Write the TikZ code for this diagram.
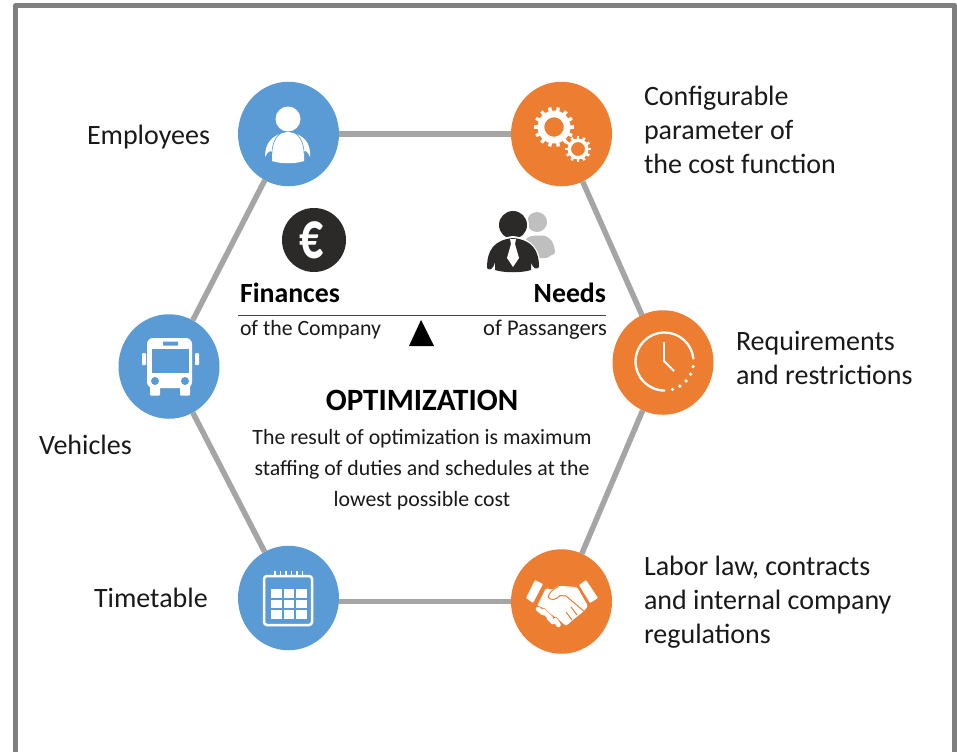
\documentclass[tikz,border=0pt]{standalone}
\usepackage{fontspec}
\usetikzlibrary{shapes.geometric}
\setmainfont{Carlito}
\definecolor{blueC}{HTML}{5B9BD5}
\definecolor{orangeC}{HTML}{ED7D31}
\definecolor{linkC}{HTML}{A5A5A5}
\definecolor{frameC}{HTML}{7F7F7F}
\definecolor{darkC}{HTML}{2B2A29}
\definecolor{ghostC}{HTML}{BFBFBF}
\tikzset{
  hub/.style={ellipse,minimum width=101pt,minimum height=104.5pt,inner sep=0pt,outer sep=0pt},
  bluehub/.style={hub,fill=blueC},
  orangehub/.style={hub,fill=orangeC},
  link/.style={draw=linkC,line width=5.5pt},
  lab/.style={inner sep=0pt,outer sep=0pt,font=\fontsize{28}{33.7}\selectfont,text=black!90,align=left},
  small/.style={inner sep=0pt,outer sep=0pt,font=\fontsize{21.8}{21.8}\selectfont,text=black!90},
  headb/.style={inner sep=0pt,outer sep=0pt,font=\fontsize{27.8}{27.8}\selectfont\bfseries,text=black},
  blob/.style={draw=white,line width=4.6pt,line cap=round},
  cut/.style={draw=orangeC,line width=1pt,line join=round},
}
\begin{document}
\begin{tikzpicture}[x=1pt,y=-1pt]
\useasboundingbox (0,0) rectangle (957,752);
\draw[frameC,line width=5pt,line join=round] (15.5,752) -- (15.5,5.5) -- (954.5,5.5) -- (954.5,752);

\node[bluehub] (emp) at (288.5,134) {};
\node[orangehub] (cfg) at (561.5,134) {};
\node[orangehub] (req) at (663,362.5) {};
\node[orangehub] (lab) at (561.5,601.5) {};
\node[bluehub] (tim) at (288.5,598) {};
\node[bluehub] (veh) at (169,366.5) {};
\draw[link] (emp) -- (cfg);
\draw[link] (cfg) -- (req);
\draw[link] (req) -- (lab);
\draw[link] (lab.west) -- (lab.west -| tim.east);
\draw[link] (tim) -- (veh);
\draw[link] (veh) -- (emp);

% person icon
\fill[white] (288,119) circle (12.5);
\fill[white] (265,157) .. controls (265,143) and (272,134) .. (288,132) .. controls (304,134) and (311,143) .. (310,157) .. controls (307,150) and (304,150) .. (304,152) -- (304,161) .. controls (295,164) and (281,164) .. (272,161) -- (272,152) .. controls (271,150) and (268,151) .. (265,157) -- cycle;
\draw[blueC,line width=.6pt] (272,153) .. controls (272,144) and (276,136) .. (281,133);
\draw[blueC,line width=.6pt] (304,153) .. controls (304,144) and (300,136) .. (295,133);

% gears
\foreach \cx/\cy/\ro/\rt/\rh/\n/\w in {554/127/16.5/20/9.8/14/3.4, 578/149/10.5/13/7/12/2.6}{
  \fill[white,even odd rule] (\cx,\cy) circle (\ro) (\cx,\cy) circle (\rh);
  \foreach \k in {1,...,\n}{
    \draw[white,line width=\w pt] ({\cx+(\ro-.5)*cos(\k*360/\n)},{\cy+(\ro-.5)*sin(\k*360/\n)}) -- ({\cx+\rt*cos(\k*360/\n)},{\cy+\rt*sin(\k*360/\n)});
  }
}

% clock
\draw[white,line width=2.3pt,line cap=round] (664.5,390.5) arc[start angle=90,end angle=354,radius=29];
\foreach \a in {10,26,42,58,74}{\fill[white] ({664.5+29*cos(\a)},{361.5+29*sin(\a)}) circle (1.8);}
\draw[white,line width=1.8pt] (664,342) -- (664,361) -- (674,371);

% bus
\fill[white,rounded corners=6pt] (147,338) rectangle (192,388);
\fill[white,rounded corners=1pt] (150,385) rectangle (160,395.5);
\fill[white,rounded corners=1pt] (180,385) rectangle (190,395.5);
\fill[white,rounded corners=1pt] (142,353) rectangle (146,365);
\fill[white,rounded corners=1pt] (195,353) rectangle (199,365);
\fill[blueC] (152,349) rectangle (189,373);
\fill[blueC,rounded corners=.5pt] (163,341.5) rectangle (178,345.5);
\fill[blueC] (155,381) circle (4) (185,381) circle (4);

% calendar
\draw[white,line width=2.5pt,rounded corners=3pt] (264,576) rectangle (312,625);
\foreach \x in {275,280.5,286,291.5,297,302.5}{\draw[white,line width=1.2pt] (\x,571) -- (\x,576);}
\foreach \x in {271,283.5,296}{\foreach \y in {589,599.5,610}{\fill[white] (\x,\y) rectangle ++(10.5,8.5);}}

% handshake
\fill[white,rounded corners=.8pt] (535,580) -- (543,584) -- (533,603) -- (526,598) -- cycle;
\fill[white,rounded corners=.8pt] (586,580) -- (598,598) -- (590,603) -- (579,585) -- cycle;
\fill[white,rounded corners=1.5pt] (546,588) -- (552,590) .. controls (555,587) and (558,586) .. (562,586) -- (577,587) -- (588,606) -- (584,611) -- (574,619) -- (566,626) -- (558,619) -- (548,612) -- (542,607) -- (537,606) -- cycle;
\draw[cut] (558,586.5) .. controls (553,589) and (549,593) .. (548,597) .. controls (551,601) and (556,600) .. (560,595.5) -- (566,596) -- (585,612);
\draw[cut] (571,607) -- (577,615) (566,612) -- (572,620);
\foreach \a/\b/\c/\d in {538/609/543/613, 543.5/611/551/618.5, 549/618/553/622, 555.5/620/558.5/625}{
  \draw[orangeC,line width=6pt,line cap=round] (\a,\b) -- (\c,\d);
}
\foreach \a/\b/\c/\d in {538/609/543/613, 543.5/611/551/618.5, 549/618/553/622, 555.5/620/558.5/625}{
  \draw[blob] (\a,\b) -- (\c,\d);
}

% finances / needs
\node[circle,fill=darkC,minimum size=64pt,inner sep=0pt,text=white,font=\fontsize{68}{68}\selectfont\bfseries] (eur) at (314,240) {\hspace*{-5pt}\scalebox{.7}[1]{€}};
\fill[ghostC] (537,222) circle (10);
\fill[ghostC,rounded corners=3pt] (525,240) .. controls (530,235) and (544,235) .. (549,238) .. controls (553,242) and (555,249) .. (555,255) -- (551,254) -- (549,258) -- (528,258) -- cycle;
\fill[white] (513,225) circle (16);
\fill[darkC] (513,225) circle (14);
\fill[white] (485,270) .. controls (485,250) and (494,238) .. (513,236) .. controls (532,238) and (541,250) .. (541,270) -- cycle;
\fill[darkC] (487,268) .. controls (487,250) and (494,240) .. (513,238) .. controls (532,240) and (539,250) .. (539,267) .. controls (537,270) and (533,269) .. (531,262) -- (531,270) .. controls (522,273) and (504,273) .. (495,270) -- (495,262) .. controls (493,270) and (489,271) .. (487,268) -- cycle;
\fill[white] (510,239) -- (516,239) -- (515,244) -- (519,258) -- (513,267) -- (507,258) -- (511,244) -- cycle;

\node[headb,anchor=base west] (fin) at (240,302) {Finances};
\node[headb,anchor=base east] (nee) at (606,302) {Needs};
\draw[black!75,line width=1pt] (238,315) -- (606,315);
\node[small,anchor=base west] (com) at (240,335) {of the Company};
\node[small,anchor=base east,font=\fontsize{22.5}{22.5}\selectfont] (pas) at (607,335) {of Passangers};
\fill[black] (421,320) -- (434,346) -- (409,346) -- cycle;

\node[inner sep=0pt,anchor=base,font=\fontsize{31}{31}\selectfont\bfseries] (opt) at (422,410) {OPTIMIZATION};
\node[small,anchor=base] (l1) at (422,444) {The result of optimization is maximum};
\node[small,anchor=base] (l2) at (422,475) {staffing of duties and schedules at the};
\node[small,anchor=base] (l3) at (422,506) {lowest possible cost};

\node[lab,anchor=base west] (t1) at (87,144) {Employees};
\node[lab,anchor=base west] (t2) at (39,454) {Vehicles};
\node[lab,anchor=base west] (t3) at (94,607) {Timetable};
\node[lab,anchor=west] (t4) at (644,130) {Configurable\\parameter of\\the cost function};
\node[lab,anchor=west] (t5) at (736,358) {Requirements\\and restrictions};
\node[lab,anchor=west] (t6) at (644,602) {Labor law, contracts\\and internal company\\regulations};
\end{tikzpicture}
\end{document}
